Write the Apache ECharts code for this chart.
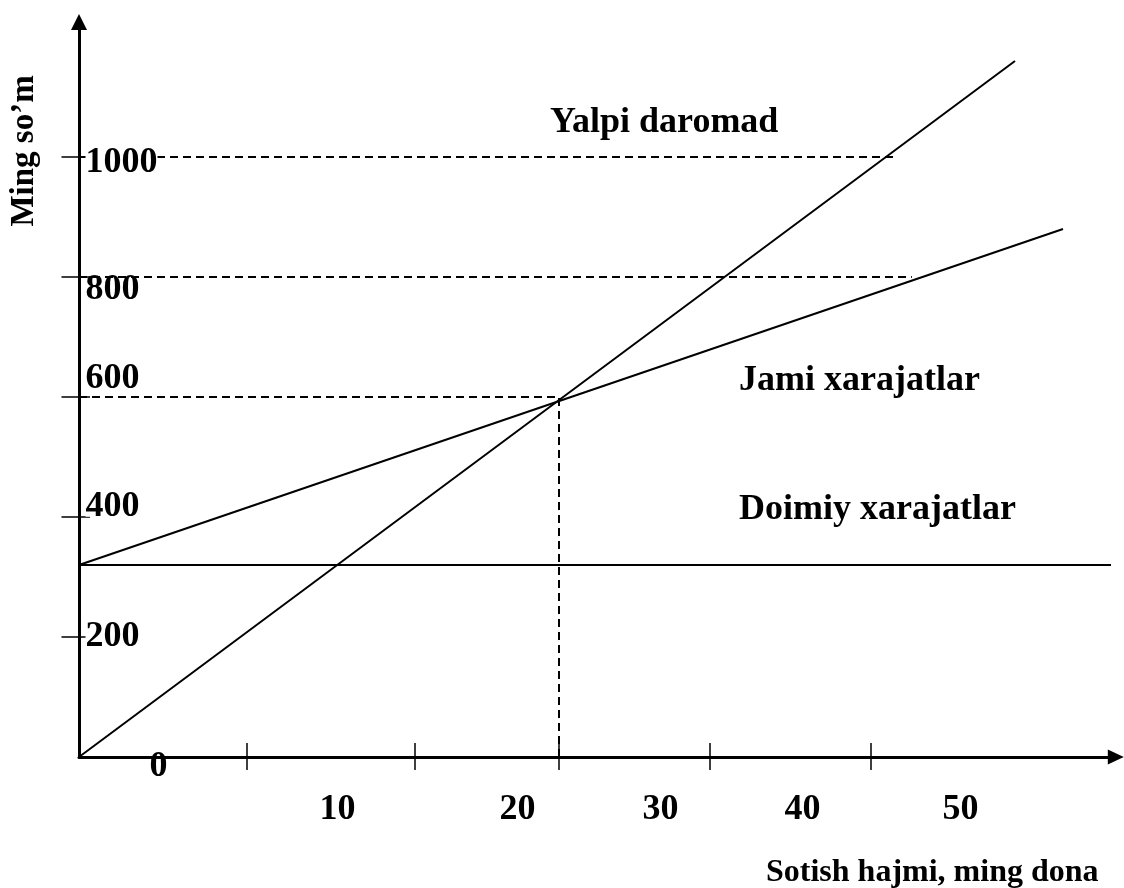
<!DOCTYPE html>
<html>
<head>
<meta charset="utf-8">
<script src="https://cdn.jsdelivr.net/npm/echarts@6/dist/echarts.min.js"></script>
<style>
html,body{margin:0;padding:0;background:#fff;}
#chart{width:1124px;height:888px;}
</style>
</head>
<body>
<div id="chart"></div>
<script>
// ---- data ----
const revenue    = [[0, 0], [39, 1160]];        // Yalpi daromad
const totalCost  = [[0, 320], [41, 880]];       // Jami xarajatlar
const fixedCost  = [[0, 320], [43, 320]];       // Doimiy xarajatlar
const guide1000  = [[0, 1000], [34, 1000]];
const guide800   = [[0, 800], [34.7, 800]];
const guide600   = [[0, 600], [20, 600]];
const guideBreak = [[20, 0], [20, 600]];

const xTickValues = [7, 14, 20, 26.3, 33];
const xLabelText  = ['0', '10', '20', '30', '40', '50'];
const xLabelPos   = [3.31, 10.77, 18.27, 24.23, 30.15, 36.73];
const yTickValues = [200, 400, 600, 800, 1000];
const yLabelText  = ['200', '400', '600', '800', '1000'];
const yLabelPos   = [200, 417, 630, 778, 990];

const xMax = 43.2, yMax = 1225;

const FONT = "'Liberation Serif', 'Times New Roman', serif";
function lookup(posArr, textArr) {
  return function (v) {
    for (let i = 0; i < posArr.length; i++) {
      if (Math.abs(posArr[i] - v) < 1e-6) return textArr[i];
    }
    return '';
  };
}
const lblStyle = {color: '#000', fontFamily: FONT, fontWeight: 'bold', fontSize: 36};

function lineSeries(data, dashed) {
  return {
    type: 'line', data: data, symbol: 'none', silent: true,
    xAxisIndex: 0, yAxisIndex: 0, z: 2,
    lineStyle: {color: '#000', width: 2, type: dashed ? [8, 5] : 'solid'}
  };
}

const chart = echarts.init(document.getElementById('chart'), null, {renderer: 'canvas'});
chart.setOption({
  animation: false,
  backgroundColor: '#fff',
  grid: {left: 79, right: 8.2, top: 22, bottom: 131, containLabel: false},
  xAxis: [{
    type: 'value', min: 0, max: xMax, position: 'bottom',
    axisLine: {show: true, onZero: false, symbol: ['none', 'triangle'], symbolSize: [15, 16],
               lineStyle: {color: '#000', width: 3}},
    axisTick: {show: true, customValues: xTickValues, length: 13, lineStyle: {color: '#000', width: 1.5}},
    axisLabel: Object.assign({show: true, customValues: xLabelPos.slice(1),
               formatter: lookup(xLabelPos, xLabelText), verticalAlign: 'middle', margin: 52.5}, lblStyle),
    splitLine: {show: false}
  }, {
    type: 'value', min: 0, max: xMax, position: 'bottom', offset: 0,
    axisLine: {show: false, onZero: false},
    axisTick: {show: true, inside: true, customValues: xTickValues, length: 14, lineStyle: {color: '#000', width: 1.5}},
    axisLabel: Object.assign({show: true, customValues: xLabelPos.slice(0, 1),
               formatter: lookup(xLabelPos, xLabelText), verticalAlign: 'middle', margin: 9.5}, lblStyle),
    splitLine: {show: false}
  }],
  yAxis: [{
    type: 'value', min: 0, max: yMax, position: 'left', z: 10,
    axisLine: {show: true, onZero: false, symbol: ['none', 'triangle'], symbolSize: [16, 16],
               lineStyle: {color: '#000', width: 3}},
    axisTick: {show: true, customValues: yTickValues, length: 17.5, lineStyle: {color: '#000', width: 1.5}},
    axisLabel: Object.assign({show: true, inside: true, margin: 6.5, customValues: yLabelPos,
               formatter: lookup(yLabelPos, yLabelText), backgroundColor: '#fff', lineHeight: 20}, lblStyle),
    splitLine: {show: false}
  }, {
    type: 'value', min: 0, max: yMax, position: 'left', offset: 0,
    axisLine: {show: false, onZero: false},
    axisTick: {show: true, inside: true, customValues: yTickValues, length: 11, lineStyle: {color: '#000', width: 1.5}},
    axisLabel: {show: false},
    splitLine: {show: false}
  }],
  series: [
    lineSeries(revenue, false),
    lineSeries(totalCost, false),
    lineSeries(fixedCost, false),
    lineSeries(guide1000, true),
    lineSeries(guide800, true),
    lineSeries(guide600, true),
    lineSeries(guideBreak, true)
  ],
  graphic: [
    {type: 'text', x: 24, y: 151, rotation: Math.PI / 2, silent: true,
     style: {text: 'Ming so\u2019m', fill: '#000', font: 'bold 33px ' + FONT, align: 'center', verticalAlign: 'middle'}},
    {type: 'text', x: 550, y: 123, silent: true,
     style: {text: 'Yalpi daromad', fill: '#000', font: 'bold 36px ' + FONT, align: 'left', verticalAlign: 'middle'}},
    {type: 'text', x: 739, y: 381, silent: true,
     style: {text: 'Jami xarajatlar', fill: '#000', font: 'bold 36px ' + FONT, align: 'left', verticalAlign: 'middle'}},
    {type: 'text', x: 739, y: 510, silent: true,
     style: {text: 'Doimiy xarajatlar', fill: '#000', font: 'bold 36px ' + FONT, align: 'left', verticalAlign: 'middle'}},
    {type: 'text', x: 766, y: 873, silent: true,
     style: {text: 'Sotish hajmi, ming dona', fill: '#000', font: 'bold 32px ' + FONT, align: 'left', verticalAlign: 'middle'}}
  ]
});
</script>
</body>
</html>
